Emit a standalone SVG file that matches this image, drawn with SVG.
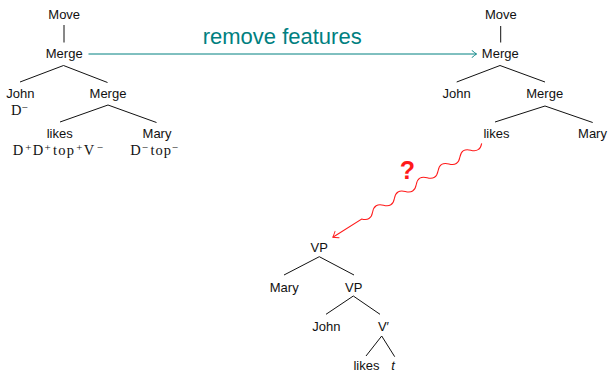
<svg xmlns="http://www.w3.org/2000/svg" width="608" height="372" viewBox="0 0 608 372">
  <style>
    .lbl { font-family: "Liberation Sans", Arial, sans-serif; font-size: 13px; fill: #111; text-anchor: middle; }
    .feat { font-family: "Liberation Serif", "Times New Roman", serif; font-size: 14.5px; fill: #111; }
    .sup { font-size: 11px; }
    .edge { stroke: #111; stroke-width: 1; fill: none; }
    .teal { stroke: #008080; stroke-width: 1; fill: none; }
    .wavy { stroke: #ff1a1a; stroke-width: 1; fill: none; }
    .title { font-family: "Liberation Sans", Arial, sans-serif; font-size: 22px; fill: #008080; text-anchor: middle; }
    .q { font-family: "Liberation Sans", Arial, sans-serif; font-size: 25px; font-weight: bold; fill: #ff1a1a; text-anchor: middle; }
  </style>
  <defs>
    <marker id="headTeal" viewBox="-6 -4 8 8" markerWidth="8" markerHeight="8" refX="0" refY="0" orient="auto" markerUnits="userSpaceOnUse">
      <path d="M-4.5,-3.5 Q-1.2,-0.8 0,0 Q-1.2,0.8 -4.5,3.5" stroke="#008080" stroke-width="0.9" fill="none" stroke-linecap="round"/>
    </marker>
    <marker id="headRed" viewBox="-7 -5 9 10" markerWidth="9" markerHeight="10" refX="0" refY="0" orient="auto" markerUnits="userSpaceOnUse">
      <path d="M-5,-3.8 Q-1.3,-0.9 0,0 Q-1.3,0.9 -5,3.8" stroke="#ff1a1a" stroke-width="0.9" fill="none" stroke-linecap="round"/>
    </marker>
  </defs>

  <!-- connectors -->
  <g id="connectors">
    <!-- left tree -->
    <line class="edge" x1="64" y1="25" x2="64" y2="42.5"/>
    <line class="edge" x1="63.5" y1="65.5" x2="20" y2="82"/>
    <line class="edge" x1="63.5" y1="65.5" x2="107.5" y2="82.5"/>
    <line class="edge" x1="108" y1="105" x2="60" y2="122"/>
    <line class="edge" x1="108" y1="105" x2="156.5" y2="122.5"/>
    <!-- right tree -->
    <line class="edge" x1="500.7" y1="26" x2="500.7" y2="42.5"/>
    <line class="edge" x1="500" y1="65.5" x2="456.7" y2="82"/>
    <line class="edge" x1="500" y1="65.5" x2="545" y2="82"/>
    <line class="edge" x1="545" y1="106" x2="495" y2="122"/>
    <line class="edge" x1="545" y1="106" x2="592.7" y2="122.5"/>
    <!-- bottom tree -->
    <line class="edge" x1="319.3" y1="256.7" x2="284" y2="275"/>
    <line class="edge" x1="319.3" y1="256.7" x2="354" y2="275"/>
    <line class="edge" x1="353.3" y1="296" x2="326" y2="314.3"/>
    <line class="edge" x1="353.3" y1="296" x2="380" y2="314.3"/>
    <line class="edge" x1="381.7" y1="336" x2="366" y2="356"/>
    <line class="edge" x1="381.7" y1="336" x2="394.7" y2="356.7"/>
    <!-- feature removal -->
    <line class="teal" x1="88.5" y1="54" x2="476.5" y2="54" marker-end="url(#headTeal)"/>
    <!-- wavy arrow, drawn along local x then rotated into place -->
    <g transform="translate(481.7,143.3) rotate(147.75)">
      <path class="wavy" marker-end="url(#headRed)" d="M0,0 q6.45,-7 12.9,0 t12.9,0 t12.9,0 t12.9,0 t12.9,0 t12.9,0 t12.9,0 t12.9,0 t12.9,0 t12.9,0 t12.9,0 L176,0"/>
    </g>
  </g>

  <!-- labels on connectors -->
  <text class="title" x="282.2" y="44">remove features</text>
  <text class="q" x="407.5" y="179">?</text>

  <!-- left tree nodes -->
  <g id="L-move"><text class="lbl" x="64.2" y="19">Move</text></g>
  <g id="L-merge1"><text class="lbl" x="64.2" y="58">Merge</text></g>
  <g id="L-john">
    <text class="lbl" x="20.3" y="98">John</text>
    <text class="feat" y="115"><tspan x="11">D</tspan><tspan class="sup" x="21.5" dy="-4">−</tspan></text>
  </g>
  <g id="L-merge2"><text class="lbl" x="108" y="98">Merge</text></g>
  <g id="L-likes">
    <text class="lbl" x="59.7" y="138">likes</text>
    <text class="feat" y="155"><tspan x="12.8">D</tspan><tspan class="sup" x="25.2" dy="-4">+</tspan><tspan x="32.8" dy="4">D</tspan><tspan class="sup" x="44.5" dy="-4">+</tspan><tspan x="53" dy="4" textLength="21" lengthAdjust="spacing">top</tspan><tspan class="sup" x="76.2" dy="-4">+</tspan><tspan x="83.8" dy="4">V</tspan><tspan class="sup" x="96.8" dy="-4">−</tspan></text>
  </g>
  <g id="L-mary">
    <text class="lbl" x="157" y="138">Mary</text>
    <text class="feat" y="155"><tspan x="130.2">D</tspan><tspan class="sup" x="141.8" dy="-4">−</tspan><tspan x="150.5" dy="4" textLength="20.5" lengthAdjust="spacing">top</tspan><tspan class="sup" x="171.8" dy="-4">−</tspan></text>
  </g>

  <!-- right tree nodes -->
  <g id="R-move"><text class="lbl" x="500.8" y="19">Move</text></g>
  <g id="R-merge1"><text class="lbl" x="500.3" y="58">Merge</text></g>
  <g id="R-john"><text class="lbl" x="456.7" y="98">John</text></g>
  <g id="R-merge2"><text class="lbl" x="544.7" y="98">Merge</text></g>
  <g id="R-likes"><text class="lbl" x="496.5" y="138">likes</text></g>
  <g id="R-mary"><text class="lbl" x="592.5" y="138">Mary</text></g>

  <!-- bottom tree nodes -->
  <g id="B-vp1"><text class="lbl" x="319.2" y="252">VP</text></g>
  <g id="B-mary"><text class="lbl" x="284.2" y="292">Mary</text></g>
  <g id="B-vp2"><text class="lbl" x="353.7" y="292">VP</text></g>
  <g id="B-john"><text class="lbl" x="326.3" y="331">John</text></g>
  <g id="B-vbar"><text class="lbl" x="383.5" y="331">V′</text></g>
  <g id="B-likes"><text class="lbl" x="366.5" y="370">likes</text></g>
  <g id="B-t"><text class="lbl" x="393" y="370" font-style="italic">t</text></g>
</svg>
